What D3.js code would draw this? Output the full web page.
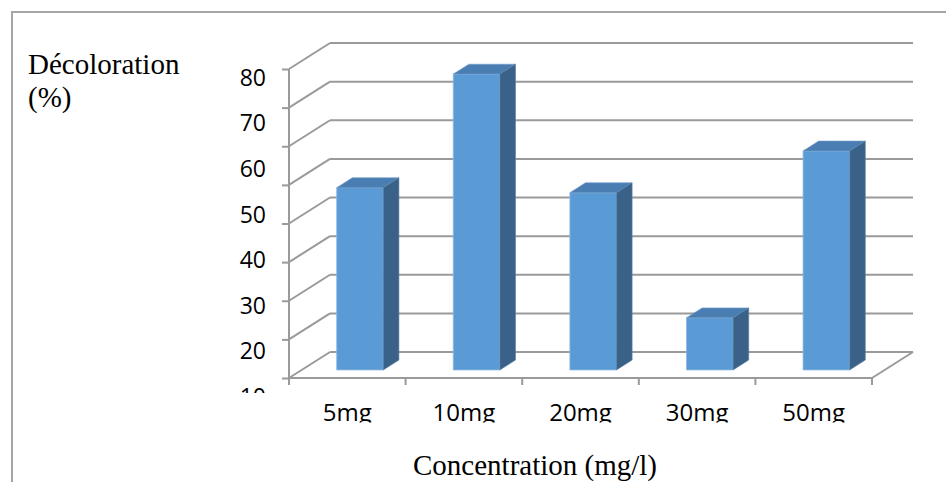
<!DOCTYPE html>
<html>
<head>
<meta charset="utf-8">
<script src="https://cdn.jsdelivr.net/npm/d3@7"></script>
<style>
  body { margin: 0; background: #fff; }
  svg { display: block; }
</style>
</head>
<body>
<div id="chart"></div>
<script>
// data
const categories = ["5mg", "10mg", "20mg", "30mg", "50mg"];
const decoloration = [47.2, 76.6, 45.9, 13.5, 56.7];
const gridValues = [0, 10, 20, 30, 40, 50, 60, 70, 80];
const yTickLabels = [80, 70, 60, 50, 40, 30, 20, 10];

const width = 946;
const height = 482;

// front plane of the 3d box
const front = { left: 289, right: 872, bottom: 378, top: 69 };
const DX = 41, DY = -26;      // depth offset of back wall
const t0 = 0.31, t1 = 0.69;   // bar depth, front and back

const svg = d3.select("#chart").append("svg")
    .attr("width", width).attr("height", height);

// outer frame
svg.append("rect")
    .attr("x", 12).attr("y", 12)
    .attr("width", 1000).attr("height", 600)
    .attr("fill", "none").attr("stroke", "#a6a6a6").attr("stroke-width", 2);

const y = d3.scaleLinear().domain([0, 80]).range([front.bottom, front.top]);
const x = d3.scaleBand().domain(categories).range([front.left, front.right]);
// the label column sits on its own spacing in the picture
const yLabel = d3.scaleLinear().domain([10, 80]).range([397, 78]);

const gridColor = "#9a9a9a";

// back wall gridlines
svg.append("g").selectAll("line")
    .data(gridValues)
    .enter().append("line")
    .attr("x1", front.left + DX)
    .attr("x2", front.right + DX)
    .attr("y1", d => y(d) + DY)
    .attr("y2", d => y(d) + DY)
    .attr("stroke", gridColor).attr("stroke-width", 2);

// side wall lines
svg.append("g").selectAll("line")
    .data(gridValues)
    .enter().append("line")
    .attr("x1", front.left)
    .attr("y1", d => y(d))
    .attr("x2", front.left + DX)
    .attr("y2", d => y(d) + DY)
    .attr("stroke", gridColor).attr("stroke-width", 2);

// floor front edge and right edge
svg.append("line")
    .attr("x1", front.left).attr("x2", front.right)
    .attr("y1", y(0)).attr("y2", y(0))
    .attr("stroke", gridColor).attr("stroke-width", 2);
svg.append("line")
    .attr("x1", front.right).attr("y1", y(0))
    .attr("x2", front.right + DX).attr("y2", y(0) + DY)
    .attr("stroke", gridColor).attr("stroke-width", 2);

// y axis line + ticks
const yAxis = svg.append("g")
    .attr("transform", "translate(" + front.left + ",0)")
    .call(d3.axisLeft(y).tickValues(gridValues).tickSize(7).tickFormat(""));
yAxis.selectAll("line, path").attr("stroke", gridColor).attr("stroke-width", 2);
yAxis.select("path").attr("d", "M0," + y(0) + "V" + y(80));

// x axis ticks at band edges
const xAxis = svg.append("g")
    .attr("transform", "translate(0," + y(0) + ")");
xAxis.selectAll("line")
    .data(categories.concat(["end"]))
    .enter().append("line")
    .attr("x1", (d, i) => front.left + i * x.bandwidth())
    .attr("x2", (d, i) => front.left + i * x.bandwidth())
    .attr("y1", 0).attr("y2", 7)
    .attr("stroke", gridColor).attr("stroke-width", 2);

// clip regions for the cut-off labels
const defs = svg.append("defs");
defs.append("clipPath").attr("id", "clipY")
    .append("rect").attr("x", 0).attr("y", 0).attr("width", 290).attr("height", 393);
defs.append("clipPath").attr("id", "clipX")
    .append("rect").attr("x", 0).attr("y", 0).attr("width", 946).attr("height", 422.5);

// y tick labels
const yLab = svg.append("g")
    .attr("clip-path", "url(#clipY)")
    .append("g")
    .attr("transform", "translate(267,0)")
    .call(d3.axisLeft(yLabel).tickValues(yTickLabels).tickSize(0).tickPadding(1));
yLab.select("path").remove();
yLab.selectAll("text")
    .attr("font-family", "'Open Sans', sans-serif")
    .attr("font-size", 23)
    .attr("fill", "#000");

// x tick labels
const xLab = svg.append("g")
    .attr("clip-path", "url(#clipX)")
    .append("g")
    .attr("transform", "translate(0,404)")
    .call(d3.axisBottom(x).tickSize(0).tickPadding(0));
xLab.select("path").remove();
xLab.selectAll("text")
    .attr("font-family", "'Open Sans', sans-serif")
    .attr("font-size", 24)
    .attr("dy", "0.71em")
    .attr("fill", "#000");

// bars
const bw = x.bandwidth() * 0.4;
const bars = svg.append("g").selectAll("g")
    .data(categories.map((c, i) => ({ c, v: decoloration[i] })))
    .enter().append("g");

function pts(arr) { return arr.map(p => p.join(",")).join(" "); }

bars.each(function (d) {
    const g = d3.select(this);
    const xl = x(d.c) + (x.bandwidth() - bw) / 2;
    const xr = xl + bw;
    const yv = y(d.v), y0 = y(0);
    const fx = t0 * DX, fy = t0 * DY, bx = t1 * DX, by = t1 * DY;
    // front
    g.append("polygon")
        .attr("points", pts([[xl + fx, yv + fy], [xr + fx, yv + fy], [xr + fx, y0 + fy], [xl + fx, y0 + fy]]))
        .attr("fill", "#5b9bd5").attr("stroke", "#8db8e2").attr("stroke-width", 0.8);
    // top
    g.append("polygon")
        .attr("points", pts([[xl + fx, yv + fy], [xr + fx, yv + fy], [xr + bx, yv + by], [xl + bx, yv + by]]))
        .attr("fill", "#4a7eb2").attr("stroke", "#6f9bc7").attr("stroke-width", 0.6);
    // side
    g.append("polygon")
        .attr("points", pts([[xr + fx, yv + fy], [xr + bx, yv + by], [xr + bx, y0 + by], [xr + fx, y0 + fy]]))
        .attr("fill", "#3a6288").attr("stroke", "#5a80a6").attr("stroke-width", 0.6);
});

// axis titles
const serif = "'Liberation Serif', 'Times New Roman', serif";
const yTitle = svg.append("text")
    .attr("font-family", serif).attr("font-size", 29).attr("fill", "#000");
yTitle.append("tspan").attr("x", 28).attr("y", 74).text("Décoloration");
yTitle.append("tspan").attr("x", 28).attr("y", 107).text("(%)");

svg.append("text")
    .attr("x", 535).attr("y", 475)
    .attr("text-anchor", "middle")
    .attr("font-family", serif).attr("font-size", 29).attr("fill", "#000")
    .text("Concentration (mg/l)");
</script>
</body>
</html>
